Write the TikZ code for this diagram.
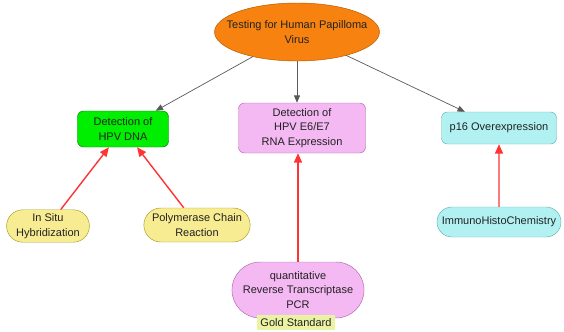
\documentclass[tikz,border=0pt]{standalone}
\usepackage{xcolor}
\usepackage{fontspec}
\setmainfont{Liberation Sans}
\usepackage{tikz}
\usetikzlibrary{shapes.misc, shapes.geometric, positioning, arrows.meta}
\definecolor{hpv_orange}{HTML}{F7820F}
\definecolor{hpv_green}{HTML}{00EE00}
\definecolor{hpv_pink}{HTML}{F4B8F2}
\definecolor{hpv_cyan}{HTML}{B2F1F2}
\definecolor{hpv_yellow}{HTML}{F7EC92}
\definecolor{hpv_gold}{HTML}{EAF3A2}
\definecolor{hpv_text}{HTML}{222222}
\tikzstyle{box_node}=[rectangle, rounded corners=0.18cm, draw, thin, align=center, text=hpv_text, font=\fontsize{9.4}{12.3}\selectfont]
\tikzstyle{pill_node}=[rounded rectangle, draw, thin, align=center, text=hpv_text, font=\fontsize{9.4}{12.3}\selectfont]
\tikzstyle{gray_arrow}=[-{Triangle[length=2.2mm, width=1.8mm]}, semithick, color=black!65]
\tikzstyle{red_arrow}=[-{Triangle[length=2.8mm, width=2.4mm]}, very thick, color=red!80!white]

\begin{document}
\begin{tikzpicture}[x=0.03cm, y=-0.03cm]
    \useasboundingbox (0,0) rectangle (564,331);

    \node[ellipse, draw=orange!70!black, fill=hpv_orange, inner xsep=-14pt, inner ysep=0pt, minimum width=4.95cm, minimum height=1.74cm, align=center, text=hpv_text, font=\fontsize{9.4}{12.3}\selectfont] at (297, 32) (test) {Testing for Human Papilloma\\Virus};

    \node[box_node, draw=green!50!black, fill=hpv_green, minimum width=2.73cm, minimum height=1.08cm] at (123, 129) (dna) {Detection of\\HPV DNA};
    \node[box_node, draw=violet!60, fill=hpv_pink, minimum width=3.81cm, minimum height=1.5cm] at (302, 128) (rna) {Detection of\\HPV E6/E7\\RNA Expression};
    \node[box_node, draw=teal!60, fill=hpv_cyan, minimum width=3.45cm, minimum height=0.96cm] at (499, 128) (p16) {p16 Overexpression};

    \node[pill_node, draw=olive!80, fill=hpv_yellow, minimum width=2.43cm, minimum height=0.93cm] at (48, 226) (insitu) {In Situ\\Hybridization};
    \node[pill_node, draw=olive!80, fill=hpv_yellow, minimum width=3.15cm, minimum height=1.02cm] at (197, 225) (pcr) {Polymerase Chain\\Reaction};
    \node[pill_node, draw=violet!60, fill=hpv_pink, minimum width=3.9cm, minimum height=1.68cm] at (298, 290) (qrt) {quantitative\\Reverse Transcriptase\\PCR};
    \node[fill=hpv_gold, minimum width=2.34cm, minimum height=0.46cm, inner sep=1pt, text=hpv_text, font=\fontsize{9.4}{12.3}\selectfont] at (296, 322.5) (gold) {Gold Standard};
    \node[pill_node, draw=teal!60, fill=hpv_cyan, minimum width=3.66cm, minimum height=0.9cm] at (499, 222) (ihc) {ImmunoHistoChemistry};

    \draw[gray_arrow] (test) -- (dna);
    \draw[gray_arrow] (test.south) -- (test.south |- rna.north);
    \draw[gray_arrow] (test) -- (p16);

    \draw[red_arrow] (insitu) -- (dna);
    \draw[red_arrow] (pcr) -- (dna);
    \draw[red_arrow] (qrt.north) -- (qrt.north |- rna.south);
    \draw[red_arrow] (ihc) -- (p16);
\end{tikzpicture}
\end{document}
